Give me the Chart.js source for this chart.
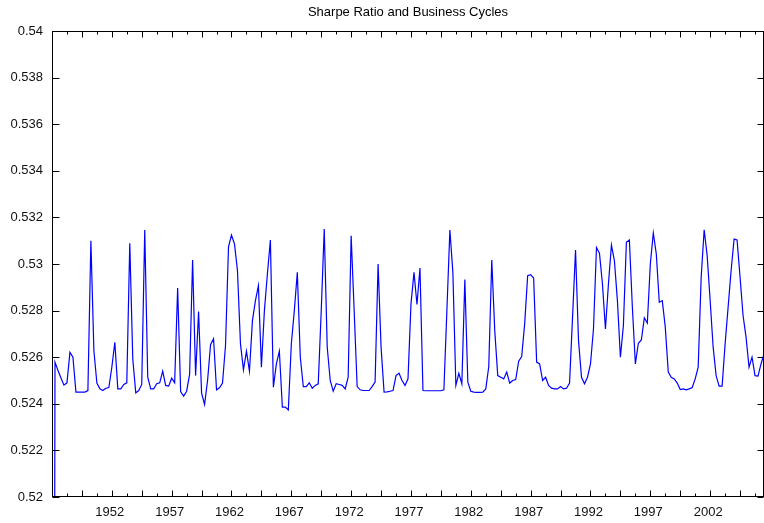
<!DOCTYPE html>
<html><head><meta charset="utf-8">
<script src="https://cdn.jsdelivr.net/npm/chart.js@4.4.0/dist/chart.umd.min.js"></script>
<style>html,body{margin:0;padding:0;background:#fff;}canvas{display:block;}</style>
</head><body>
<canvas id="c" width="764" height="523"></canvas>
<script>
const titleText = 'Sharpe Ratio and Business Cycles';
// quarterly observations, index 0 = 1947Q1
const sharpe = [
0.46, 0.52579, 0.52543, 0.52511, 0.5248, 0.5249, 0.52621, 0.526, 0.5245, 0.5245,
0.5245, 0.5245, 0.52457, 0.531, 0.52629, 0.52489, 0.52464, 0.52457, 0.52467, 0.5247,
0.52557, 0.52664, 0.52464, 0.52464, 0.52483, 0.5249, 0.53089, 0.52593, 0.52447, 0.52457,
0.52483, 0.53146, 0.52514, 0.52464, 0.52464, 0.52486, 0.5249, 0.5254, 0.52479, 0.52476,
0.5251, 0.5249, 0.52897, 0.52453, 0.52433, 0.52454, 0.52526, 0.53017, 0.52521, 0.52796,
0.52446, 0.52397, 0.525, 0.52654, 0.52679, 0.5246, 0.52469, 0.52489, 0.5265, 0.53074,
0.53124, 0.53086, 0.52971, 0.52657, 0.52546, 0.52626, 0.5254, 0.52757, 0.52843, 0.52907,
0.52557, 0.528, 0.52957, 0.53103, 0.52471, 0.52571, 0.52626, 0.52386, 0.52386, 0.52374,
0.52657, 0.528, 0.52964, 0.526, 0.52474, 0.52474, 0.5249, 0.52467, 0.52479, 0.52486,
0.528, 0.5315, 0.52643, 0.525, 0.52454, 0.52486, 0.52483, 0.52479, 0.52464, 0.52514,
0.53121, 0.528, 0.52474, 0.5246, 0.52457, 0.52457, 0.52457, 0.52474, 0.52493, 0.53,
0.52643, 0.5245, 0.52451, 0.52454, 0.52457, 0.52521, 0.52531, 0.525, 0.52479, 0.52507,
0.52829, 0.52964, 0.52826, 0.52983, 0.52457, 0.52456, 0.52456, 0.52456, 0.52456, 0.52456,
0.52456, 0.5246, 0.528, 0.53146, 0.52964, 0.52479, 0.52531, 0.52486, 0.52933, 0.52493,
0.52454, 0.5245, 0.52449, 0.52449, 0.5245, 0.52464, 0.5256, 0.53017, 0.52714, 0.52521,
0.52514, 0.52507, 0.52536, 0.52489, 0.525, 0.52504, 0.52583, 0.52603, 0.52743, 0.5295,
0.52954, 0.5294, 0.52579, 0.52571, 0.525, 0.52514, 0.52479, 0.52467, 0.52464, 0.52464,
0.52474, 0.52464, 0.52467, 0.52489, 0.52771, 0.5306, 0.52671, 0.52514, 0.52486, 0.52514,
0.52571, 0.52721, 0.53071, 0.53046, 0.52914, 0.52721, 0.52914, 0.53081, 0.53014, 0.52843,
0.526, 0.52736, 0.53093, 0.53103, 0.52814, 0.52571, 0.5266, 0.52674, 0.52769, 0.52746,
0.53, 0.53133, 0.53043, 0.52836, 0.52843, 0.52729, 0.52536, 0.52514, 0.52507, 0.52489,
0.52461, 0.52464, 0.5246, 0.52464, 0.5247, 0.52507, 0.52557, 0.52943, 0.53147, 0.53036,
0.52843, 0.52643, 0.52521, 0.52476, 0.52476, 0.52657, 0.52814, 0.52971, 0.53107, 0.53103,
0.52943, 0.52779, 0.52686, 0.52557, 0.526, 0.52521, 0.52519, 0.52571, 0.52614
];
const xTickLabels = ['1952','1957','1962','1967','1972','1977','1982','1987','1992','1997','2002'];
const xTickIndex  = [20, 40, 60, 80, 100, 120, 140, 160, 180, 200, 220];
const yTickLabels = ['0.52','0.522','0.524','0.526','0.528','0.53','0.532','0.534','0.536','0.538','0.54'];

const FONT = 'Liberation Sans, Arial, Helvetica, sans-serif';

const frameTicks = {
  id: 'frameTicks',
  afterDraw(chart) {
    const {ctx, chartArea: a, scales: {x, y}} = chart;
    const L = Math.round(a.left) + 0.5, R = Math.round(a.right) - 0.5;
    const T = Math.round(a.top) + 0.5, B = Math.round(a.bottom) - 0.5;
    ctx.save();
    ctx.strokeStyle = '#000';
    ctx.lineWidth = 1;
    ctx.beginPath();
    x.ticks.forEach(t => {
      const px = Math.round(x.getPixelForValue(t.value)) + 0.5;
      const len = (Math.round(t.value) % 10 === 0) ? 6 : 3;
      ctx.moveTo(px, B); ctx.lineTo(px, B - len);
      ctx.moveTo(px, T); ctx.lineTo(px, T + len);
    });
    y.ticks.forEach(t => {
      const py = Math.round(y.getPixelForValue(t.value)) + 0.5;
      ctx.moveTo(L, py); ctx.lineTo(L + 7, py);
      ctx.moveTo(R, py); ctx.lineTo(R - 6, py);
    });
    ctx.stroke();
    ctx.strokeRect(L, T, R - L, B - T);
    ctx.restore();
  }
};

new Chart(document.getElementById('c'), {
  type: 'line',
  data: {
    datasets: [{
      data: sharpe.map((v, j) => ({x: j, y: v})),
      borderColor: '#0000ff',
      borderWidth: 1.2,
      pointRadius: 0,
      tension: 0,
      fill: false,
      clip: 0
    }]
  },
  options: {
    responsive: false,
    animation: false,
    devicePixelRatio: 1,
    layout: {padding: 0},
    plugins: {
      legend: {display: false},
      tooltip: {enabled: false},
      title: {
        display: true,
        fullSize: false,
        text: titleText,
        color: '#000',
        font: {family: FONT, size: 13, weight: 'normal', lineHeight: 1.2},
        padding: {top: 5, bottom: 10.4}
      }
    },
    scales: {
      x: {
        type: 'linear',
        min: 0,
        max: sharpe.length - 1,
        grid: {display: true, drawOnChartArea: false, drawTicks: false},
        border: {display: false},
        ticks: {
          stepSize: 5,
          includeBounds: false,
          autoSkip: false,
          maxRotation: 0,
          padding: 8,
          labelOffset: -2,
          color: '#111',
          font: {family: FONT, size: 13},
          callback: (v) => { const k = xTickIndex.indexOf(Math.round(v)); return k >= 0 ? xTickLabels[k] : ''; }
        },
        afterFit: (s) => { s.height = 26; }
      },
      y: {
        min: 0.52,
        max: 0.54,
        grid: {display: true, drawOnChartArea: false, drawTicks: false},
        border: {display: false},
        ticks: {
          stepSize: 0.002,
          autoSkip: false,
          padding: 9,
          color: '#111',
          font: {family: FONT, size: 13},
          callback: (v) => { const k = Math.round((v - 0.52) / 0.002); return yTickLabels[k] ?? ''; }
        },
        afterFit: (s) => { s.width = 52; }
      }
    }
  },
  plugins: [frameTicks]
});
</script>
</body></html>
